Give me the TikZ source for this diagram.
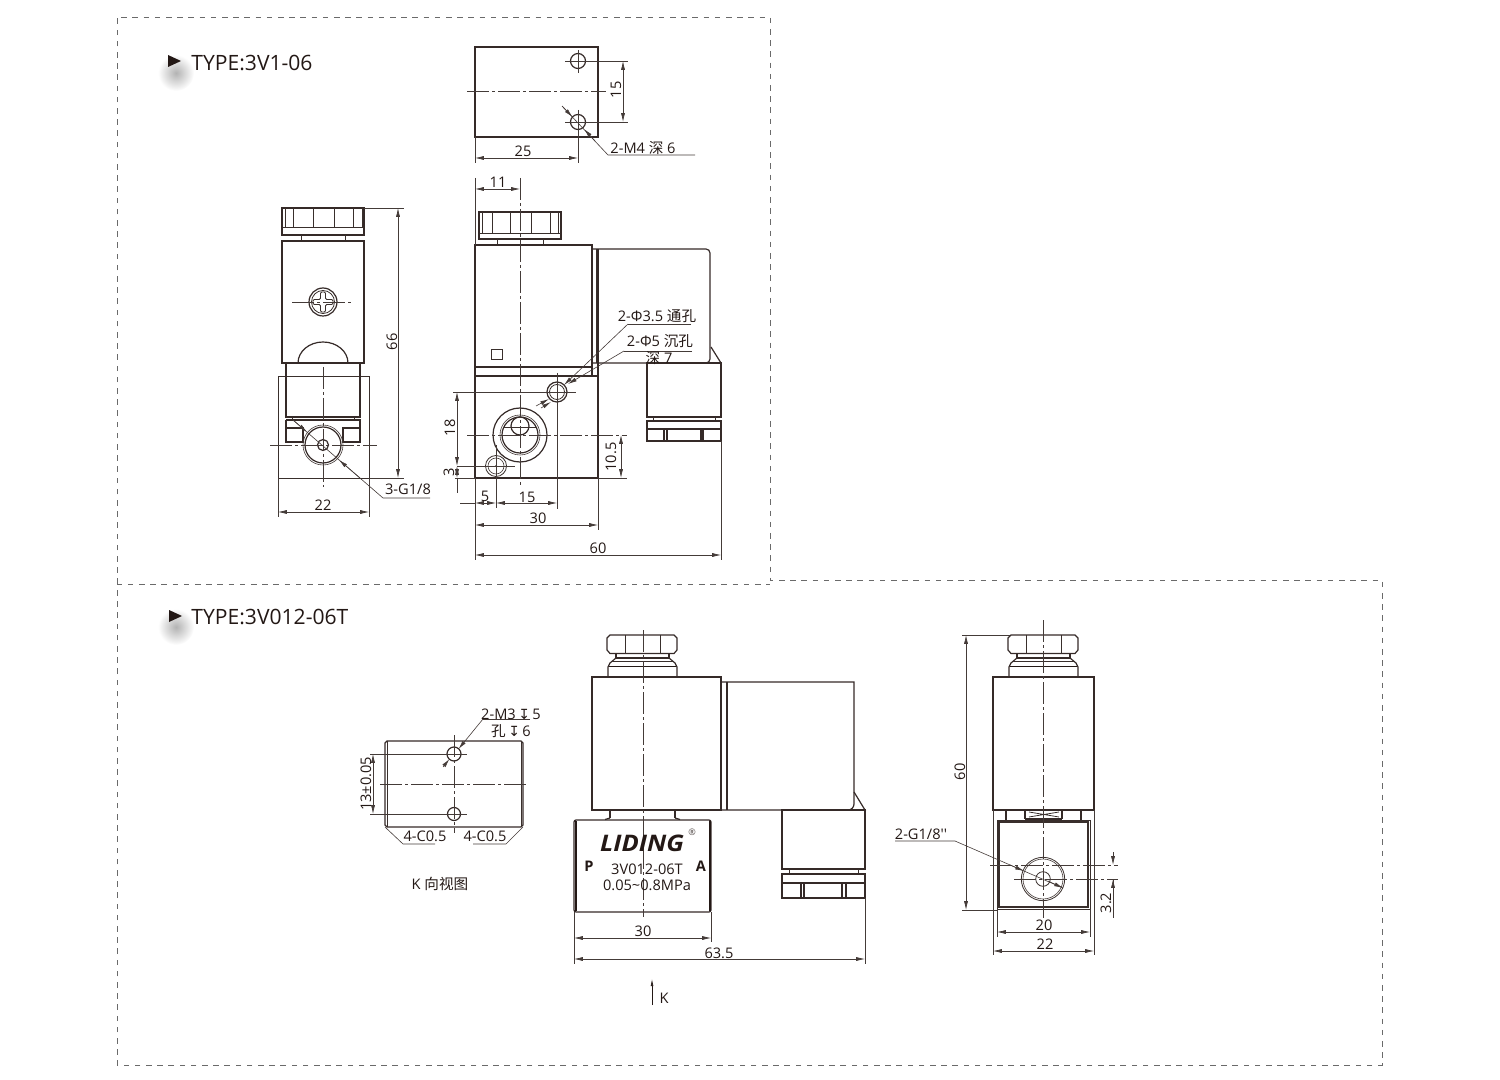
\documentclass[tikz,border=0pt]{standalone}
\usepackage{fontspec}
\setmainfont{Open Sans}
\newfontfamily\plainf{Open Sans}
\newfontfamily\cjk{Noto Sans CJK SC}
\newfontfamily\symf{DejaVu Sans}
\usetikzlibrary{arrows.meta}
\definecolor{ink}{HTML}{231815}
\definecolor{framec}{HTML}{6A6A6A}
\tikzset{
  x=0.5pt,y=-0.5pt,
  heavy/.style={draw=ink!92,line width=0.6pt,line join=miter},
  mid/.style={draw=ink!90,line width=0.4pt},
  thin line/.style={draw=ink!85,line width=0.3pt},
  centerl/.style={draw=ink!85,line width=0.3pt,dash pattern=on 11pt off 1.5pt on 1.5pt off 1.5pt},
  dimarrow/.style={draw=ink!85,line width=0.3pt,{Latex[length=4.4pt,width=2pt]}-{Latex[length=4.4pt,width=2pt]}},
  enda/.style={draw=ink!85,line width=0.3pt,-{Latex[length=4.4pt,width=2pt]}},
  lab/.style={inner sep=0pt,text=ink,font=\fontsize{7.3}{8}\selectfont},
  vlab/.style={lab,rotate=90},
  title/.style={inner sep=0pt,anchor=west,text=ink,font=\fontsize{10.55}{12}\selectfont},
  frame/.style={draw=framec,line width=0.42pt,dash pattern=on 2.8pt off 2.8pt},
}
\begin{document}
\begin{tikzpicture}
\useasboundingbox (0,0) rectangle (1500,1080);
% frames
\draw[frame] (117,584) -- (117,17) -- (770,17) -- (770,580) -- (1382,580) -- (1382,1065) -- (117,1065) -- (117,584) -- (770,584);
% titles
\shade[inner color=black!30,outer color=white,draw=none] (176,73) circle [radius=18];
\shade[inner color=black!30,outer color=white,draw=none] (176,627) circle [radius=18];
\fill[ink] (168,55) -- (181,61) -- (168,67) -- cycle;
\fill[ink] (169,610) -- (182,616) -- (169,622) -- cycle;
\node[title] (t1) at (191,63) {TYPE:3V1-06};
\node[title] (t2) at (191,617) {TYPE:3V012-06T};

% ---------- top view 3V1-06
\draw[heavy] (475,47) rectangle (598,137);
\draw[heavy] (578,61) circle [radius=7.5];
\draw[heavy] (578,122) circle [radius=7.5];
\draw[centerl] (467,91) -- (606,91);
\draw[thin line] (578,50) -- (578,73);
\draw[thin line] (578,110) -- (578,163);
\draw[thin line] (565,61) -- (628,61);
\draw[thin line] (565,122) -- (628,122);
\draw[dimarrow] (623,61) -- (623,122);
\node[vlab] (d15a) at (616,90) {15};
\draw[thin line] (475,137) -- (475,163);
\draw[dimarrow] (475,158) -- (578,158);
\node[lab] (d25) at (523,151) {25};
\draw[thin line] (562,106) -- (608,155) -- (695,155);
\draw[enda] (562,106) -- (572.5,117);
\draw[enda] (595,141) -- (584,129);
\node[lab] (m4) at (643,148) {2-M4 {\cjk 深} 6};

% ---------- side view 3V1-06
\draw[heavy] (282,208) rectangle (364,235);
\draw[mid] (282,227) -- (364,227);
\foreach \xx in {285,293,313,334,353,362} \draw[mid] (\xx,208) -- (\xx,227);
\draw[mid] (301,235) -- (301,241) (345,235) -- (345,241);
\draw[heavy] (282,241) rectangle (364,363);
\draw[heavy] (298,363) arc[start angle=180,end angle=360,x radius=25,y radius=21];
\draw[heavy] (323,302) circle [radius=14];
\draw[mid] (323,302) circle [radius=11.5];
\draw[mid,rounded corners=0.6pt] (320.5,292) -- (325.5,292) -- (325.5,299.5) -- (333,299.5) -- (333,304.5) -- (325.5,304.5) -- (325.5,312) -- (320.5,312) -- (320.5,304.5) -- (313,304.5) -- (313,299.5) -- (320.5,299.5) -- cycle;
\draw[centerl] (292,302) -- (354,302);
\draw[mid] (278,376) rectangle (369,478);
\draw[heavy] (286,363) -- (286,417) -- (360,417) -- (360,363);
\draw[mid] (292,417) -- (292,420) (354,417) -- (354,420);
\draw[heavy] (286,420) -- (360,420) -- (360,442) -- (343,442) -- (343,428) -- (360,428);
\draw[heavy] (286,428) -- (303,428) -- (303,442) -- (286,442) -- (286,420);
\draw[heavy,fill=white] (323,445) circle [radius=18];
\draw[thin line] (323,445) circle [radius=20];
\draw[heavy] (323,445) circle [radius=5.5];
\draw[centerl] (323,367) -- (323,487);
\draw[centerl] (270,445) -- (377,445);
\draw[thin line] (293,420) -- (383,498) -- (430,498);
\draw[enda] (293,420) -- (307,432);
\draw[enda] (360,478) -- (339,460);
\node[lab] (g18) at (408,489) {3-G1/8};
\draw[thin line] (364,208) -- (404,208) (369,478) -- (404,478);
\draw[dimarrow] (398,208) -- (398,478);
\node[vlab] (d66) at (392,342) {66};
\draw[thin line] (278,478) -- (278,517) (369,478) -- (369,517);
\draw[dimarrow] (278,512) -- (369,512);
\node[lab] (d22a) at (323,505) {22};

% ---------- front view 3V1-06
\draw[heavy] (479,212) rectangle (561,239);
\draw[mid] (479,233) -- (561,233);
\foreach \xx in {482,492,510,531,550,558} \draw[mid] (\xx,212) -- (\xx,233);
\draw[mid] (497,239) -- (497,245) (543,239) -- (543,245);
\draw[heavy] (475,245) rectangle (592,367);
\draw[heavy] (475,367) rectangle (592,376);
\draw[heavy] (592,249) -- (706,249) arc[start angle=270,end angle=360,radius=4] -- (710,359) arc[start angle=0,end angle=90,radius=4] -- (598,363) -- (592,363);
\draw[heavy] (598,249) -- (598,376);
\draw[mid] (596.5,249) -- (596.5,363);
\draw[heavy] (711,347) -- (721,363);
\draw[mid] (491,349) rectangle (502,359);
\draw[heavy] (475,376) rectangle (598,478);
\draw[heavy] (647,363) rectangle (721,417);
\draw[mid] (653,417) -- (653,421) (715,417) -- (715,421);
\draw[heavy] (647,421) rectangle (721,441);
\draw[heavy] (647,429) -- (721,429);
\draw[heavy] (664,429) -- (664,441) (667,429) -- (667,441) (701,429) -- (701,441) (703,429) -- (703,441);
\draw[heavy] (520,435) circle [radius=27];
\draw[heavy] (520,435) circle [radius=18];
\draw[thin line] (520,435) circle [radius=20];
\draw[heavy] (520,426) circle [radius=9];
\draw[mid] (503,427) -- (537,427);
\draw[heavy] (557,392) circle [radius=10];
\draw[mid] (557,392) circle [radius=7.5];
\draw[mid] (496,466) circle [radius=10.5];
\draw[thin line] (496,466) circle [radius=8];
\fill[ink] (496,466) circle [radius=1];
\draw[centerl] (520,178) -- (520,487);
\draw[centerl] (467,435) -- (627,435);
\draw[thin line] (453,392) -- (576,392);
\draw[thin line] (557,373) -- (557,509);
\draw[thin line] (457,466) -- (515,466);
\draw[thin line] (496,445) -- (496,508);
\draw[thin line] (475,178) -- (475,245);
\draw[dimarrow] (475,189) -- (520,189);
\node[lab] (d11) at (498,182) {11};
\draw[thin line] (455,478) -- (475,478);
\draw[dimarrow] (457,392) -- (457,466);
\draw[dimarrow] (457,466) -- (457,478);
\draw[thin line] (457,478) -- (457,493);
\node[vlab] (d18) at (450,428) {18};
\node[vlab] (d3) at (449,472) {3};
\draw[thin line] (460,503) -- (475,503);
\draw[dimarrow] (475,503) -- (496,503);
\draw[dimarrow] (496,503) -- (557,503);
\node[lab] (d5) at (485,496) {5};
\node[lab] (d15b) at (527,497) {15};
\draw[thin line] (475,478) -- (475,560) (598,478) -- (598,530) (721,441) -- (721,560);
\draw[dimarrow] (475,525) -- (598,525);
\node[lab] (d30) at (538,518) {30};
\draw[dimarrow] (475,555) -- (721,555);
\node[lab] (d60) at (598,548) {60};
\draw[thin line] (598,478) -- (627,478);
\draw[dimarrow] (621,435) -- (621,478);
\node[vlab] (d105) at (611,457) {10.5};
\draw[thin line] (691,324) -- (628,324);
\draw[enda] (628,324) -- (564,385);
\draw[thin line] (692,351) -- (624,351);
\draw[enda] (624,351) -- (568,384);
\draw[enda] (536,406) -- (549,399);
\draw[enda] (541,408) -- (551,402);
\node[lab] (p35) at (657,316) {2-Φ3.5 {\cjk 通孔}};
\node[lab] (p5) at (660,341) {2-Φ5 {\cjk 沉孔}};
\node[lab] (p7) at (659,358) {{\cjk 深} 7};

% ---------- K view
\draw[heavy] (387,741) -- (521,741) -- (523,743) -- (523,825) -- (521,827) -- (387,827) -- (385,825) -- (385,743) -- cycle;
\draw[mid] (387,741) -- (387,827) (521,741) -- (521,827);
\draw[heavy] (454,754) circle [radius=7];
\draw[heavy] (454,814) circle [radius=6.5];
\draw[centerl] (454,735) -- (454,833);
\draw[centerl] (380,784) -- (527,784);
\draw[thin line] (370,754) -- (467,754) (370,814) -- (467,814);
\draw[dimarrow] (373,754) -- (373,814);
\node[vlab] (d13) at (366,784) {13±0.05};
\draw[thin line] (530,719) -- (483,719);
\draw[enda] (483,719) -- (458.5,749);
\draw[enda] (443,767) -- (449.5,759);
\node[lab] (m3) at (511,714) {2-M3\,{\symf\fontsize{7}{8}\selectfont ↧}\,5};
\node[lab] (k6) at (511,731) {{\cjk 孔}\,{\symf\fontsize{7}{8}\selectfont ↧}\,6};
\draw[thin line] (385,827) -- (403,844) -- (435,844);
\draw[thin line] (523,827) -- (506,844) -- (473,844);
\node[lab] (c1) at (425,836) {4-C0.5};
\node[lab] (c2) at (485,836) {4-C0.5};
\node[lab] (kv) at (440,884) {K {\cjk 向视图}};

% ---------- front view 3V012-06T, nut shared with right view
\foreach \sx in {0,401} {
\begin{scope}[shift={(\sx,0)}]
\draw[heavy] (610,635) -- (674,635) -- (677,638) -- (677,650) -- (674,653.5) -- (610,653.5) -- (607,650) -- (607,638) -- cycle;
\draw[mid] (625.5,635) -- (625.5,653.5) (660,635) -- (660,653.5);
\draw[heavy] (616,653.5) -- (616,658) -- (669,658) -- (669,653.5);
\draw[heavy] (616,658) -- (610,663) -- (608,667) -- (608,677);
\draw[heavy] (669,658) -- (675,663) -- (677,667) -- (677,677);
\draw[mid] (612,661) -- (673,661);
\draw[line width=0.9pt,draw=ink] (609,666.5) -- (676,666.5);
\end{scope}}
\draw[heavy] (592,677) rectangle (721,810);
\draw[heavy] (721,682) -- (854,682) -- (854,804) arc[start angle=0,end angle=90,radius=6] -- (721,810);
\draw[heavy] (727,682) -- (727,810);
\draw[heavy] (854,792) -- (865,810) -- (782,810);
\draw[heavy] (610,810) -- (610,818) (675,810) -- (675,818);
\draw[heavy] (605,819.5) -- (610,818) (680,819.5) -- (675,818);
\draw[heavy,rounded corners=1pt] (574,820) -- (711,820) -- (711,912) -- (574,912) -- cycle;
\draw[line width=1pt,draw=ink] (575.5,821) -- (575.5,911) (709.5,821) -- (709.5,911);
\draw[heavy] (782,810) rectangle (865,869);
\draw[mid] (789,869) -- (789,874) (858,869) -- (858,874);
\draw[heavy] (782,874) rectangle (865,898);
\draw[heavy] (782,883) -- (865,883);
\draw[heavy] (801,883) -- (801,898) (804,883) -- (804,898) (842,883) -- (842,898) (846,883) -- (846,898);
\draw[centerl] (643,630) -- (643,917);
\node[inner sep=0pt,text=ink,font=\fontsize{11.4}{12}\selectfont\bfseries\itshape] (logo) at (642,843) {\scalebox{1.12}[1]{LIDING}};
\node[inner sep=0pt,text=ink!80,font=\fontsize{4.5}{5}\selectfont] (reg) at (692,832) {®};
\node[inner sep=0pt,text=ink,font=\fontsize{7.3}{8}\selectfont\bfseries] (pp) at (589,866) {P};
\node[inner sep=0pt,text=ink,font=\fontsize{7.3}{8}\selectfont\bfseries] (aa) at (701,866) {A};
\node[lab] (mod) at (647,869) {3V012-06T};
\node[lab] (mpa) at (647,885) {0.05\char`\~0.8MPa};
\draw[thin line] (574,912) -- (574,964) (711,912) -- (711,942) (865,898) -- (865,964);
\draw[dimarrow] (574,938) -- (711,938);
\node[lab] (d30b) at (643,931) {30};
\draw[dimarrow] (574,959) -- (865,959);
\node[lab] (d635) at (719,953) {63.5};
\coordinate (ka) at (652,1005);
\coordinate (kb) at (652,979);
\draw[draw=ink,line width=0.3pt,-{Latex[length=3.5pt,width=1.4pt]}] (ka) -- (kb);
\node[lab] (kk) at (664,998) {K};

% ---------- right view 3V012-06T
\draw[heavy] (993,677) rectangle (1094,810);
\draw[heavy] (1006,810) -- (1006,820) (1081,810) -- (1081,820);
\draw[heavy] (1025,810) -- (1025,819) (1062,810) -- (1062,819) (1025,819) -- (1062,819);
\draw[mid] (1029,812) -- (1059,817) (1029,817) -- (1059,812);
\draw[mid] (997,820) rectangle (1090,909);
\draw[line width=0.7pt,draw=ink!90] (999,822) rectangle (1088,907);
\draw[mid] (1043,879) circle [radius=21.7];
\draw[thin line] (1043,879) circle [radius=20];
\draw[mid] (1043,879) circle [radius=7.3];
\draw[centerl] (1043,620) -- (1043,918);
\draw[centerl] (990,865) -- (1118,865);
\draw[centerl] (1014,879) -- (1118,879);
\draw[thin line] (962,635) -- (1010,635) (962,910) -- (997,910);
\draw[dimarrow] (966,635) -- (966,910);
\node[vlab] (d60b) at (960,772) {60};
\draw[thin line] (1113,879) -- (1113,918);
\draw[enda] (1113,852) -- (1113,865);
\draw[enda] (1113,895) -- (1113,879);
\node[vlab] (d32) at (1106,903) {3.2};
\draw[thin line] (997,909) -- (997,937) (1090,909) -- (1090,937) (993,810) -- (993,955) (1094,810) -- (1094,955);
\draw[dimarrow] (997,932) -- (1090,932);
\node[lab] (d20) at (1044,925) {20};
\draw[dimarrow] (993,951) -- (1094,951);
\node[lab] (d22b) at (1045,944) {22};
\draw[thin line] (895,841) -- (955,841) -- (1063,888);
\draw[enda] (1010,865) -- (1024,871);
\draw[enda] (1048,881) -- (1063,888);
\node[lab] (g18b) at (921,834) {2-G1/8{\plainf ''}};
\end{tikzpicture}
\end{document}
